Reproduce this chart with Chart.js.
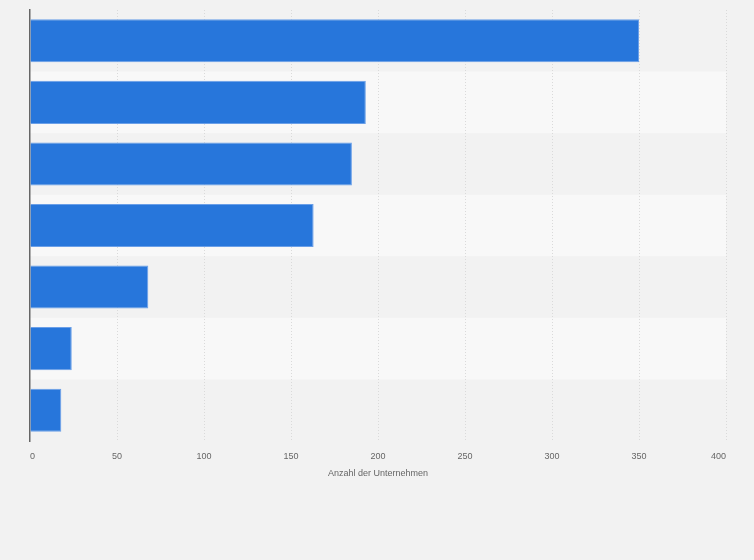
<!DOCTYPE html>
<html>
<head>
<meta charset="utf-8">
<script src="https://cdn.jsdelivr.net/npm/chart.js@4"></script>
<style>
  html, body { margin: 0; padding: 0; background: #f2f2f2; }
  #wrap { width: 754px; height: 560px; }
</style>
</head>
<body>
<div id="wrap"><canvas id="c" width="754" height="560"></canvas></div>
<script>
const categories = ["Kategorie 1", "Kategorie 2", "Kategorie 3", "Kategorie 4", "Kategorie 5", "Kategorie 6", "Kategorie 7"];
const values = [350, 193, 185, 163, 68, 24, 18];
const xTicks = [0, 50, 100, 150, 200, 250, 300, 350, 400];
const xTitle = "Anzahl der Unternehmen";

const bandPlugin = {
  id: 'bands',
  beforeDraw(chart) {
    const { ctx, chartArea, scales } = chart;
    const y = scales.y;
    const n = categories.length;
    const h = (chartArea.bottom - chartArea.top) / n;
    ctx.save();
    for (let i = 0; i < n; i++) {
      if (i % 2 === 1) {
        const cy = y.getPixelForValue(i);
        ctx.fillStyle = '#f8f8f8';
        ctx.fillRect(chartArea.left, cy - h / 2, chartArea.right - chartArea.left, h);
      }
    }
    ctx.restore();
  }
};

new Chart(document.getElementById('c'), {
  type: 'bar',
  data: {
    labels: categories,
    datasets: [{
      data: values,
      backgroundColor: '#2776db',
      borderColor: '#6a9fe8',
      borderWidth: 1,
      categoryPercentage: 0.7,
      barPercentage: 1.0
    }]
  },
  options: {
    indexAxis: 'y',
    responsive: false,
    animation: false,
    layout: { padding: { left: 30, right: 28, top: 10, bottom: 77 } },
    plugins: { legend: { display: false }, tooltip: { enabled: false } },
    scales: {
      x: {
        min: 0, max: 400,
        afterBuildTicks(scale) { scale.ticks = xTicks.map(v => ({ value: v })); },
        afterFit(scale) { scale.height = 42; },
        grid: {
          color: (c) => c.tick && c.tick.value === 0 ? 'rgba(0,0,0,0)' : '#dadada',
          lineWidth: 1,
          drawTicks: false
        },
        border: { display: false, dash: [1, 2] },
        ticks: {
          padding: 10,
          align: 'inner',
          color: '#666',
          font: { family: 'Liberation Sans, Arial, sans-serif', size: 9 }
        },
        title: {
          display: true,
          text: xTitle,
          color: '#666',
          font: { family: 'Liberation Sans, Arial, sans-serif', size: 9 },
          padding: { top: 4, bottom: 4 }
        }
      },
      y: {
        afterFit(scale) { scale.width = 0; },
        grid: { display: false, drawTicks: false },
        border: { display: true, color: '#666', width: 1.5 },
        ticks: { display: false }
      }
    }
  },
  plugins: [bandPlugin]
});
</script>
</body>
</html>
